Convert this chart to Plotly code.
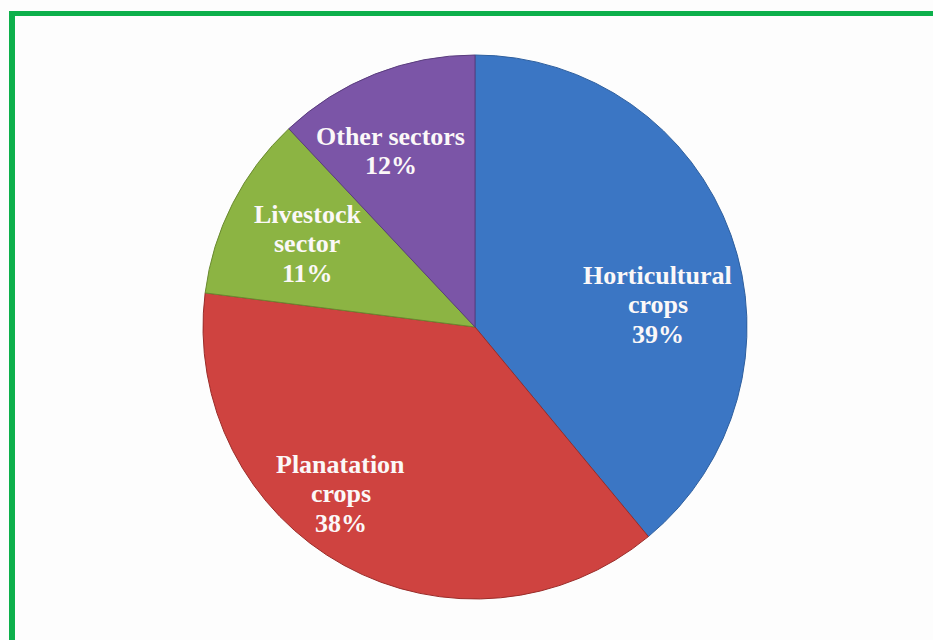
import math
import plotly.graph_objects as go

# Share of sectors (percent)
sectors = ["Horticultural<br>crops", "Planatation<br>crops", "Livestock<br>sector", "Other sectors"]
shares = [39, 38, 11, 12]
colors = ["#3B76C4", "#CF4340", "#8CB443", "#7B55A7"]
edge_colors = ["#2E5F9E", "#9A2C29", "#6A8A30", "#5A3D7E"]

# label placement: angular nudge from slice mid-angle (deg) and radial fraction
label_nudge = [12.8, 10.1, -0.6, -4.0]
label_radius = [0.677, 0.787, 0.688, 0.718]

W, H = 933, 640
cx, cy, r = 475, 327, 272  # pie centre and radius in pixels
font_size = 26
line_pitch = 29.5

fig = go.Figure(go.Pie(
    labels=sectors,
    values=shares,
    sort=False,
    direction="clockwise",
    rotation=0,
    marker=dict(colors=colors, line=dict(color=edge_colors, width=1)),
    textinfo="none",
    hoverinfo="label+percent",
    showlegend=False,
    domain=dict(x=[(cx - r) / W, (cx + r) / W],
                y=[(H - cy - r) / H, (H - cy + r) / H]),
))

# slice labels, one annotation per text line for tight line spacing
total = sum(shares)
start = 0.0
for name, val, nudge, rf in zip(sectors, shares, label_nudge, label_radius):
    mid = (start + val / 2) / total * 360 + nudge
    start += val
    px = cx + rf * r * math.sin(math.radians(mid))
    py = cy - rf * r * math.cos(math.radians(mid))
    lines = name.split("<br>") + [f"{val}%"]
    n = len(lines)
    for i, line in enumerate(lines):
        ly = py + (i - (n - 1) / 2) * line_pitch
        fig.add_annotation(
            x=px / W, y=1 - ly / H, xref="paper", yref="paper",
            text=f"<b>{line}</b>", showarrow=False,
            xanchor="center", yanchor="middle",
            font=dict(family="Liberation Serif", size=font_size, color="#FBF8F8"),
        )

# green frame along the top and left edges
green = "#0DB04B"
fig.add_shape(type="rect", xref="paper", yref="paper",
              x0=9 / W, x1=15 / W, y0=0, y1=1 - 11 / H,
              fillcolor=green, line=dict(width=0), layer="above")
fig.add_shape(type="rect", xref="paper", yref="paper",
              x0=9 / W, x1=1, y0=1 - 16 / H, y1=1 - 11 / H,
              fillcolor=green, line=dict(width=0), layer="above")

fig.update_layout(
    width=W, height=H,
    margin=dict(l=0, r=0, t=0, b=0),
    paper_bgcolor="#FDFDFD",
    plot_bgcolor="#FDFDFD",
)

fig.write_html("out.html")
